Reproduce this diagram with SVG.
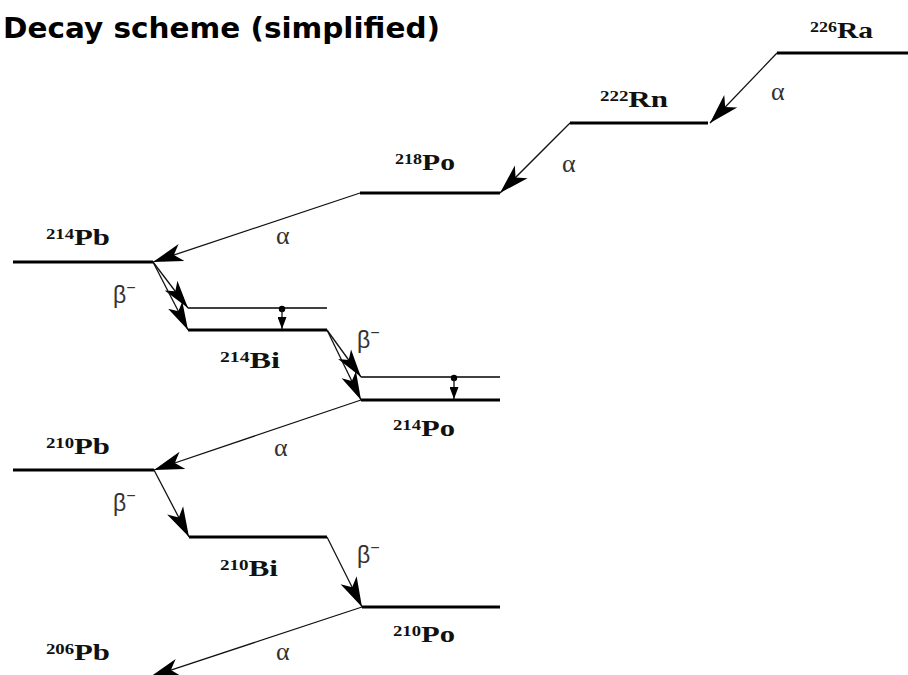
<svg xmlns="http://www.w3.org/2000/svg" width="908" height="675" viewBox="0 0 908 675">
<style>
.title{font-family:"DejaVu Sans",Verdana,sans-serif;font-weight:bold;font-size:28px;fill:#000}
.lvl{stroke:#000;stroke-width:3;fill:none}
.lvlx{stroke:#000;stroke-width:1.6;fill:none}
.con{stroke:#111;stroke-width:1.3;fill:none}
.nuc{font-family:"Liberation Serif","Times New Roman",serif;font-weight:bold;font-size:23px;fill:#111}
.mass{font-size:14px}
.alpha{font-family:"Liberation Serif","Times New Roman",serif;font-size:26px;fill:#333}
.beta{font-family:"Liberation Sans",Arial,sans-serif;font-size:23px;fill:#333}
</style>
<defs>
<marker id="ah" markerUnits="userSpaceOnUse" markerWidth="32" markerHeight="20" refX="30" refY="10" orient="auto"><path d="M0,1 L30,10 L0,19 L8,10 z" fill="#000"/></marker>
<marker id="ahs" markerUnits="userSpaceOnUse" markerWidth="30" markerHeight="18" refX="28" refY="9" orient="auto"><path d="M0,1 L28,9 L0,17 L7,9 z" fill="#000"/></marker>
<marker id="ahg" markerUnits="userSpaceOnUse" markerWidth="13" markerHeight="9" refX="12" refY="4.5" orient="auto"><path d="M0,0 L12,4.5 L0,9 z" fill="#000"/></marker>
</defs>
<text class="title" x="3" y="38" textLength="437" lengthAdjust="spacingAndGlyphs">Decay scheme (simplified)</text>
<g id="levels">
<g id="Ra226"><line class="lvl" x1="777" y1="53" x2="908" y2="53"/><text class="nuc" x="810" y="38" textLength="63" lengthAdjust="spacingAndGlyphs"><tspan class="mass" dy="-6">226</tspan><tspan dy="6">Ra</tspan></text></g>
<g id="Rn222"><line class="lvl" x1="570" y1="123" x2="708" y2="123"/><text class="nuc" x="600" y="107" textLength="68" lengthAdjust="spacingAndGlyphs"><tspan class="mass" dy="-6">222</tspan><tspan dy="6">Rn</tspan></text></g>
<g id="Po218"><line class="lvl" x1="360" y1="193" x2="500" y2="193"/><text class="nuc" x="395" y="170" textLength="60" lengthAdjust="spacingAndGlyphs"><tspan class="mass" dy="-6">218</tspan><tspan dy="6">Po</tspan></text></g>
<g id="Pb214"><line class="lvl" x1="13" y1="262" x2="153" y2="262"/><text class="nuc" x="46" y="245" textLength="64" lengthAdjust="spacingAndGlyphs"><tspan class="mass" dy="-6">214</tspan><tspan dy="6">Pb</tspan></text></g>
<g id="Bi214"><line class="lvlx" x1="188" y1="308" x2="327" y2="308"/><line class="lvl" x1="188" y1="330" x2="327" y2="330"/><text class="nuc" x="220" y="368" textLength="60" lengthAdjust="spacingAndGlyphs"><tspan class="mass" dy="-6">214</tspan><tspan dy="6">Bi</tspan></text></g>
<g id="Po214"><line class="lvlx" x1="361" y1="377" x2="500" y2="377"/><line class="lvl" x1="361" y1="400" x2="500" y2="400"/><text class="nuc" x="393" y="436" textLength="62" lengthAdjust="spacingAndGlyphs"><tspan class="mass" dy="-6">214</tspan><tspan dy="6">Po</tspan></text></g>
<g id="Pb210"><line class="lvl" x1="13" y1="470" x2="154" y2="470"/><text class="nuc" x="46" y="454" textLength="64" lengthAdjust="spacingAndGlyphs"><tspan class="mass" dy="-6">210</tspan><tspan dy="6">Pb</tspan></text></g>
<g id="Bi210"><line class="lvl" x1="189" y1="537" x2="327" y2="537"/><text class="nuc" x="220" y="576" textLength="58" lengthAdjust="spacingAndGlyphs"><tspan class="mass" dy="-6">210</tspan><tspan dy="6">Bi</tspan></text></g>
<g id="Po210"><line class="lvl" x1="362" y1="607" x2="500" y2="607"/><text class="nuc" x="393" y="642" textLength="62" lengthAdjust="spacingAndGlyphs"><tspan class="mass" dy="-6">210</tspan><tspan dy="6">Po</tspan></text></g>
<g id="Pb206"><text class="nuc" x="46" y="660" textLength="64" lengthAdjust="spacingAndGlyphs"><tspan class="mass" dy="-6">206</tspan><tspan dy="6">Pb</tspan></text></g>
</g>
<g id="connectors">
<line class="con" x1="777" y1="53" x2="710" y2="123" marker-end="url(#ah)"/>
<line class="con" x1="570" y1="123" x2="500" y2="193" marker-end="url(#ah)"/>
<line class="con" x1="360" y1="193" x2="153" y2="262" marker-end="url(#ah)"/>
<line class="con" x1="153" y1="262" x2="188" y2="308" marker-end="url(#ahs)"/>
<line class="con" x1="153" y1="262" x2="188" y2="330" marker-end="url(#ahs)"/>
<circle cx="282" cy="309" r="3.2" fill="#000"/>
<line class="con" x1="282" y1="309" x2="282" y2="329" marker-end="url(#ahg)"/>
<line class="con" x1="327" y1="330" x2="361" y2="377" marker-end="url(#ahs)"/>
<line class="con" x1="327" y1="330" x2="361" y2="400" marker-end="url(#ahs)"/>
<circle cx="454" cy="378" r="3.2" fill="#000"/>
<line class="con" x1="454" y1="378" x2="454" y2="399" marker-end="url(#ahg)"/>
<line class="con" x1="361" y1="400" x2="154" y2="470" marker-end="url(#ah)"/>
<line class="con" x1="154" y1="470" x2="189" y2="537" marker-end="url(#ah)"/>
<line class="con" x1="327" y1="537" x2="362" y2="607" marker-end="url(#ah)"/>
<line class="con" x1="362" y1="607" x2="150" y2="677" marker-end="url(#ah)"/>
</g>
<g id="labels">
<text class="alpha" x="771" y="100">α</text>
<text class="alpha" x="562" y="172">α</text>
<text class="alpha" x="276" y="244">α</text>
<text class="alpha" x="274" y="456">α</text>
<text class="alpha" x="276" y="660">α</text>
<text class="beta" x="113" y="303">β<tspan font-size="16" dy="-10">−</tspan></text>
<text class="beta" x="357" y="348">β<tspan font-size="16" dy="-10">−</tspan></text>
<text class="beta" x="113" y="511">β<tspan font-size="16" dy="-10">−</tspan></text>
<text class="beta" x="357" y="563">β<tspan font-size="16" dy="-10">−</tspan></text>
</g>
</svg>
